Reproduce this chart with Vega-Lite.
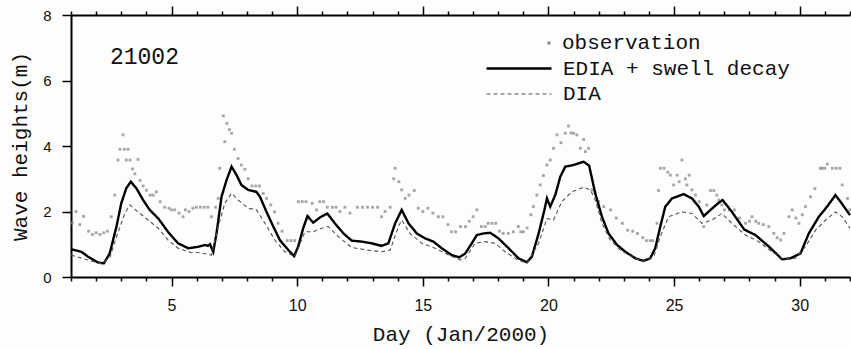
{
"$schema":"https://vega.github.io/schema/vega-lite/v6.json",
"width":779,"height":262,
"autosize":{"type":"none"},
"padding":{"left":71,"top":15,"right":1,"bottom":72},
"background":"#fdfdfd",
"config":{"view":{"stroke":null},"axis":{"domainColor":"#000","domainWidth":2,"tickColor":"#000","tickWidth":1.5,"grid":false,"labelFont":"Liberation Sans","labelColor":"#111","titleFont":"Liberation Mono","titleFontSize":21,"titleFontWeight":"normal","titleColor":"#111"}},
"data":{"values":[
{"s":"o","d":1.05,"h":1.65},{"s":"o","d":1.2,"h":2.0},{"s":"o","d":1.35,"h":1.6},{"s":"o","d":1.5,"h":1.85},{"s":"o","d":1.7,"h":1.4},{"s":"o","d":1.85,"h":1.3},{"s":"o","d":2.0,"h":1.35},{"s":"o","d":2.15,"h":1.3},{"s":"o","d":2.3,"h":1.35},{"s":"o","d":2.45,"h":1.4},
{"s":"o","d":2.6,"h":1.84},{"s":"o","d":2.74,"h":2.5},{"s":"o","d":2.87,"h":3.57},{"s":"o","d":2.95,"h":3.9},{"s":"o","d":3.07,"h":4.34},{"s":"o","d":3.12,"h":3.9},{"s":"o","d":3.2,"h":3.57},{"s":"o","d":3.27,"h":3.9},{"s":"o","d":3.35,"h":3.57},{"s":"o","d":3.45,"h":3.3},
{"s":"o","d":3.54,"h":3.15},{"s":"o","d":3.67,"h":3.59},{"s":"o","d":3.75,"h":2.95},{"s":"o","d":3.87,"h":2.78},{"s":"o","d":4.0,"h":2.65},{"s":"o","d":4.15,"h":2.5},{"s":"o","d":4.27,"h":2.5},{"s":"o","d":4.4,"h":2.6},{"s":"o","d":4.55,"h":2.3},{"s":"o","d":4.73,"h":2.13},
{"s":"o","d":4.9,"h":2.1},{"s":"o","d":5.0,"h":2.05},{"s":"o","d":5.13,"h":2.05},{"s":"o","d":5.3,"h":1.95},{"s":"o","d":5.46,"h":1.84},{"s":"o","d":5.55,"h":2.05},{"s":"o","d":5.7,"h":2.0},{"s":"o","d":5.85,"h":2.1},{"s":"o","d":5.99,"h":2.13},{"s":"o","d":6.15,"h":2.13},
{"s":"o","d":6.3,"h":2.13},{"s":"o","d":6.45,"h":2.13},{"s":"o","d":6.59,"h":1.84},{"s":"o","d":6.75,"h":2.13},{"s":"o","d":6.86,"h":2.4},{"s":"o","d":6.92,"h":3.32},{"s":"o","d":7.06,"h":4.92},{"s":"o","d":7.12,"h":4.13},{"s":"o","d":7.2,"h":4.69},{"s":"o","d":7.3,"h":4.5},
{"s":"o","d":7.39,"h":4.39},{"s":"o","d":7.5,"h":3.9},{"s":"o","d":7.65,"h":3.62},{"s":"o","d":7.78,"h":3.42},{"s":"o","d":7.92,"h":3.29},{"s":"o","d":8.05,"h":3.0},{"s":"o","d":8.2,"h":2.78},{"s":"o","d":8.35,"h":2.78},{"s":"o","d":8.5,"h":2.78},{"s":"o","d":8.65,"h":2.55},
{"s":"o","d":8.78,"h":2.4},{"s":"o","d":8.95,"h":2.2},{"s":"o","d":9.1,"h":1.99},{"s":"o","d":9.24,"h":1.64},{"s":"o","d":9.4,"h":1.4},{"s":"o","d":9.6,"h":1.11},{"s":"o","d":9.75,"h":1.11},{"s":"o","d":9.9,"h":1.11},{"s":"o","d":10.05,"h":2.3},{"s":"o","d":10.2,"h":2.3},
{"s":"o","d":10.35,"h":2.3},{"s":"o","d":10.45,"h":1.84},{"s":"o","d":10.6,"h":2.25},{"s":"o","d":10.77,"h":2.05},{"s":"o","d":10.9,"h":2.3},{"s":"o","d":11.05,"h":2.3},{"s":"o","d":11.2,"h":2.13},{"s":"o","d":11.4,"h":2.13},{"s":"o","d":11.55,"h":2.13},{"s":"o","d":11.7,"h":2.0},
{"s":"o","d":11.9,"h":2.13},{"s":"o","d":12.1,"h":1.95},{"s":"o","d":12.4,"h":2.13},{"s":"o","d":12.6,"h":2.13},{"s":"o","d":12.8,"h":2.13},{"s":"o","d":13.0,"h":2.13},{"s":"o","d":13.2,"h":2.13},{"s":"o","d":13.36,"h":1.84},{"s":"o","d":13.5,"h":2.0},{"s":"o","d":13.7,"h":2.13},
{"s":"o","d":13.84,"h":3.0},{"s":"o","d":13.9,"h":3.32},{"s":"o","d":14.05,"h":2.91},{"s":"o","d":14.16,"h":2.66},{"s":"o","d":14.3,"h":2.4},{"s":"o","d":14.45,"h":2.5},{"s":"o","d":14.66,"h":2.64},{"s":"o","d":14.82,"h":2.1},{"s":"o","d":15.0,"h":2.0},{"s":"o","d":15.2,"h":2.1},
{"s":"o","d":15.4,"h":1.95},{"s":"o","d":15.62,"h":1.84},{"s":"o","d":15.8,"h":1.84},{"s":"o","d":16.0,"h":1.6},{"s":"o","d":16.14,"h":1.38},{"s":"o","d":16.3,"h":1.38},{"s":"o","d":16.5,"h":1.54},{"s":"o","d":16.7,"h":1.54},{"s":"o","d":16.85,"h":1.7},{"s":"o","d":17.0,"h":1.84},
{"s":"o","d":17.15,"h":2.05},{"s":"o","d":17.33,"h":1.54},{"s":"o","d":17.48,"h":1.54},{"s":"o","d":17.6,"h":1.64},{"s":"o","d":17.75,"h":1.64},{"s":"o","d":17.9,"h":1.64},{"s":"o","d":18.05,"h":1.4},{"s":"o","d":18.2,"h":1.33},{"s":"o","d":18.4,"h":1.33},{"s":"o","d":18.6,"h":1.38},
{"s":"o","d":18.8,"h":1.54},{"s":"o","d":18.9,"h":1.38},{"s":"o","d":19.0,"h":1.38},{"s":"o","d":19.15,"h":1.5},{"s":"o","d":19.3,"h":1.9},{"s":"o","d":19.4,"h":2.15},{"s":"o","d":19.54,"h":2.5},{"s":"o","d":19.67,"h":2.81},{"s":"o","d":19.8,"h":3.1},{"s":"o","d":19.94,"h":3.42},
{"s":"o","d":20.07,"h":3.57},{"s":"o","d":20.2,"h":3.93},{"s":"o","d":20.34,"h":4.34},{"s":"o","d":20.5,"h":4.1},{"s":"o","d":20.67,"h":4.39},{"s":"o","d":20.8,"h":4.61},{"s":"o","d":20.9,"h":4.4},{"s":"o","d":21.0,"h":4.39},{"s":"o","d":21.13,"h":4.34},{"s":"o","d":21.27,"h":3.93},
{"s":"o","d":21.4,"h":4.2},{"s":"o","d":21.47,"h":3.83},{"s":"o","d":21.6,"h":3.93},{"s":"o","d":21.73,"h":2.66},{"s":"o","d":21.85,"h":2.6},{"s":"o","d":22.0,"h":2.3},{"s":"o","d":22.2,"h":2.15},{"s":"o","d":22.47,"h":2.05},{"s":"o","d":22.7,"h":1.8},{"s":"o","d":22.94,"h":1.64},
{"s":"o","d":23.15,"h":1.43},{"s":"o","d":23.35,"h":1.4},{"s":"o","d":23.54,"h":1.33},{"s":"o","d":23.75,"h":1.2},{"s":"o","d":23.9,"h":1.11},{"s":"o","d":24.05,"h":1.11},{"s":"o","d":24.15,"h":1.11},{"s":"o","d":24.32,"h":1.64},{"s":"o","d":24.38,"h":2.64},{"s":"o","d":24.45,"h":3.32},
{"s":"o","d":24.6,"h":3.32},{"s":"o","d":24.75,"h":3.2},{"s":"o","d":24.85,"h":3.11},{"s":"o","d":24.98,"h":2.81},{"s":"o","d":25.12,"h":3.11},{"s":"o","d":25.2,"h":2.91},{"s":"o","d":25.31,"h":3.57},{"s":"o","d":25.45,"h":3.0},{"s":"o","d":25.51,"h":2.81},{"s":"o","d":25.6,"h":3.11},
{"s":"o","d":25.71,"h":2.66},{"s":"o","d":25.85,"h":2.5},{"s":"o","d":26.0,"h":2.3},{"s":"o","d":26.18,"h":1.54},{"s":"o","d":26.3,"h":2.2},{"s":"o","d":26.45,"h":2.64},{"s":"o","d":26.58,"h":2.64},{"s":"o","d":26.7,"h":2.5},{"s":"o","d":26.78,"h":2.35},{"s":"o","d":26.9,"h":2.2},
{"s":"o","d":27.0,"h":2.05},{"s":"o","d":27.2,"h":2.05},{"s":"o","d":27.4,"h":2.05},{"s":"o","d":27.6,"h":1.8},{"s":"o","d":27.84,"h":1.64},{"s":"o","d":28.0,"h":1.7},{"s":"o","d":28.1,"h":1.84},{"s":"o","d":28.25,"h":1.7},{"s":"o","d":28.37,"h":1.64},{"s":"o","d":28.55,"h":1.6},
{"s":"o","d":28.77,"h":1.54},{"s":"o","d":28.97,"h":1.33},{"s":"o","d":29.1,"h":1.2},{"s":"o","d":29.24,"h":1.13},{"s":"o","d":29.37,"h":1.33},{"s":"o","d":29.57,"h":1.84},{"s":"o","d":29.7,"h":2.05},{"s":"o","d":29.85,"h":1.8},{"s":"o","d":29.97,"h":1.64},{"s":"o","d":30.1,"h":1.9},
{"s":"o","d":30.23,"h":2.15},{"s":"o","d":30.43,"h":2.45},{"s":"o","d":30.6,"h":2.7},{"s":"o","d":30.82,"h":3.32},{"s":"o","d":30.9,"h":3.32},{"s":"o","d":31.0,"h":3.32},{"s":"o","d":31.1,"h":3.45},{"s":"o","d":31.3,"h":3.32},{"s":"o","d":31.45,"h":3.32},{"s":"o","d":31.6,"h":3.32},
{"s":"o","d":31.69,"h":2.81},{"s":"o","d":31.9,"h":2.4},{"s":"o","d":32.0,"h":2.05},
{"s":"e","d":1.0,"h":0.85},{"s":"e","d":1.41,"h":0.77},{"s":"e","d":1.68,"h":0.62},{"s":"e","d":2.08,"h":0.44},{"s":"e","d":2.31,"h":0.42},{"s":"e","d":2.54,"h":0.72},{"s":"e","d":2.81,"h":1.54},{"s":"e","d":3.0,"h":2.25},{"s":"e","d":3.2,"h":2.71},{"s":"e","d":3.38,"h":2.91},
{"s":"e","d":3.6,"h":2.71},{"s":"e","d":3.87,"h":2.35},{"s":"e","d":4.13,"h":2.05},{"s":"e","d":4.47,"h":1.79},{"s":"e","d":4.86,"h":1.38},{"s":"e","d":5.26,"h":1.03},{"s":"e","d":5.66,"h":0.88},{"s":"e","d":6.06,"h":0.92},{"s":"e","d":6.33,"h":0.98},{"s":"e","d":6.45,"h":0.95},
{"s":"e","d":6.53,"h":1.0},{"s":"e","d":6.66,"h":0.77},{"s":"e","d":6.79,"h":1.33},{"s":"e","d":6.99,"h":2.45},{"s":"e","d":7.19,"h":2.96},{"s":"e","d":7.39,"h":3.37},{"s":"e","d":7.59,"h":3.11},{"s":"e","d":7.78,"h":2.81},{"s":"e","d":8.05,"h":2.66},{"s":"e","d":8.38,"h":2.6},
{"s":"e","d":8.52,"h":2.45},{"s":"e","d":8.78,"h":1.99},{"s":"e","d":9.05,"h":1.54},{"s":"e","d":9.31,"h":1.13},{"s":"e","d":9.65,"h":0.82},{"s":"e","d":9.88,"h":0.64},{"s":"e","d":10.04,"h":0.93},{"s":"e","d":10.24,"h":1.49},{"s":"e","d":10.41,"h":1.86},{"s":"e","d":10.64,"h":1.66},
{"s":"e","d":10.91,"h":1.82},{"s":"e","d":11.2,"h":1.94},{"s":"e","d":11.5,"h":1.64},{"s":"e","d":11.84,"h":1.33},{"s":"e","d":12.17,"h":1.11},{"s":"e","d":12.57,"h":1.08},{"s":"e","d":12.96,"h":1.03},{"s":"e","d":13.36,"h":0.95},{"s":"e","d":13.63,"h":1.03},{"s":"e","d":13.9,"h":1.64},
{"s":"e","d":14.16,"h":2.05},{"s":"e","d":14.43,"h":1.64},{"s":"e","d":14.76,"h":1.33},{"s":"e","d":15.09,"h":1.18},{"s":"e","d":15.42,"h":1.08},{"s":"e","d":15.75,"h":0.88},{"s":"e","d":16.15,"h":0.67},{"s":"e","d":16.45,"h":0.6},{"s":"e","d":16.69,"h":0.72},{"s":"e","d":16.95,"h":1.03},
{"s":"e","d":17.15,"h":1.28},{"s":"e","d":17.41,"h":1.33},{"s":"e","d":17.68,"h":1.35},{"s":"e","d":18.01,"h":1.18},{"s":"e","d":18.41,"h":0.88},{"s":"e","d":18.81,"h":0.57},{"s":"e","d":19.14,"h":0.45},{"s":"e","d":19.34,"h":0.62},{"s":"e","d":19.61,"h":1.33},{"s":"e","d":19.84,"h":2.05},
{"s":"e","d":19.94,"h":2.4},{"s":"e","d":20.07,"h":2.15},{"s":"e","d":20.27,"h":2.5},{"s":"e","d":20.47,"h":3.06},{"s":"e","d":20.67,"h":3.37},{"s":"e","d":21.0,"h":3.42},{"s":"e","d":21.4,"h":3.52},{"s":"e","d":21.62,"h":3.4},{"s":"e","d":21.86,"h":2.56},{"s":"e","d":22.13,"h":1.84},
{"s":"e","d":22.39,"h":1.33},{"s":"e","d":22.73,"h":0.98},{"s":"e","d":23.06,"h":0.77},{"s":"e","d":23.46,"h":0.57},{"s":"e","d":23.79,"h":0.49},{"s":"e","d":24.05,"h":0.57},{"s":"e","d":24.25,"h":0.88},{"s":"e","d":24.45,"h":1.54},{"s":"e","d":24.65,"h":2.15},{"s":"e","d":24.92,"h":2.4},
{"s":"e","d":25.38,"h":2.53},{"s":"e","d":25.71,"h":2.4},{"s":"e","d":25.98,"h":2.15},{"s":"e","d":26.18,"h":1.86},{"s":"e","d":26.45,"h":2.05},{"s":"e","d":26.75,"h":2.25},{"s":"e","d":26.93,"h":2.35},{"s":"e","d":27.3,"h":1.99},{"s":"e","d":27.79,"h":1.45},{"s":"e","d":28.24,"h":1.28},
{"s":"e","d":28.77,"h":0.93},{"s":"e","d":29.3,"h":0.54},{"s":"e","d":29.63,"h":0.57},{"s":"e","d":30.03,"h":0.72},{"s":"e","d":30.36,"h":1.33},{"s":"e","d":30.76,"h":1.84},{"s":"e","d":31.09,"h":2.15},{"s":"e","d":31.42,"h":2.5},{"s":"e","d":31.62,"h":2.3},{"s":"e","d":32.0,"h":1.89},
{"s":"a","d":1.0,"h":0.67},{"s":"a","d":1.68,"h":0.52},{"s":"a","d":2.21,"h":0.4},{"s":"a","d":2.55,"h":0.6},{"s":"a","d":2.81,"h":1.23},{"s":"a","d":3.14,"h":1.94},{"s":"a","d":3.34,"h":2.2},{"s":"a","d":3.67,"h":1.99},{"s":"a","d":4.07,"h":1.74},{"s":"a","d":4.47,"h":1.49},
{"s":"a","d":4.86,"h":1.13},{"s":"a","d":5.26,"h":0.88},{"s":"a","d":5.79,"h":0.74},{"s":"a","d":6.06,"h":0.75},{"s":"a","d":6.59,"h":0.67},{"s":"a","d":6.86,"h":1.54},{"s":"a","d":7.12,"h":2.25},{"s":"a","d":7.39,"h":2.56},{"s":"a","d":7.65,"h":2.35},{"s":"a","d":8.05,"h":2.1},
{"s":"a","d":8.38,"h":2.05},{"s":"a","d":8.72,"h":1.64},{"s":"a","d":9.11,"h":1.13},{"s":"a","d":9.51,"h":0.77},{"s":"a","d":9.91,"h":0.62},{"s":"a","d":10.31,"h":1.38},{"s":"a","d":10.64,"h":1.38},{"s":"a","d":10.97,"h":1.49},{"s":"a","d":11.24,"h":1.54},{"s":"a","d":11.64,"h":1.23},
{"s":"a","d":12.17,"h":0.9},{"s":"a","d":12.83,"h":0.82},{"s":"a","d":13.36,"h":0.77},{"s":"a","d":13.7,"h":0.82},{"s":"a","d":14.03,"h":1.54},{"s":"a","d":14.16,"h":1.74},{"s":"a","d":14.49,"h":1.33},{"s":"a","d":14.96,"h":1.03},{"s":"a","d":15.49,"h":0.88},{"s":"a","d":16.02,"h":0.67},
{"s":"a","d":16.49,"h":0.52},{"s":"a","d":16.69,"h":0.57},{"s":"a","d":17.08,"h":1.03},{"s":"a","d":17.48,"h":1.08},{"s":"a","d":17.88,"h":1.03},{"s":"a","d":18.28,"h":0.77},{"s":"a","d":18.74,"h":0.54},{"s":"a","d":19.14,"h":0.42},{"s":"a","d":19.61,"h":1.03},{"s":"a","d":19.94,"h":1.79},
{"s":"a","d":20.2,"h":1.74},{"s":"a","d":20.53,"h":2.3},{"s":"a","d":20.93,"h":2.6},{"s":"a","d":21.4,"h":2.74},{"s":"a","d":21.67,"h":2.66},{"s":"a","d":21.86,"h":2.35},{"s":"a","d":22.13,"h":1.64},{"s":"a","d":22.46,"h":1.13},{"s":"a","d":22.86,"h":0.82},{"s":"a","d":23.32,"h":0.62},
{"s":"a","d":23.79,"h":0.47},{"s":"a","d":24.19,"h":0.62},{"s":"a","d":24.45,"h":1.23},{"s":"a","d":24.78,"h":1.84},{"s":"a","d":25.31,"h":1.99},{"s":"a","d":25.71,"h":1.94},{"s":"a","d":26.11,"h":1.64},{"s":"a","d":26.51,"h":1.74},{"s":"a","d":26.9,"h":1.94},{"s":"a","d":27.3,"h":1.64},
{"s":"a","d":27.84,"h":1.28},{"s":"a","d":28.37,"h":1.08},{"s":"a","d":28.9,"h":0.77},{"s":"a","d":29.36,"h":0.54},{"s":"a","d":29.83,"h":0.57},{"s":"a","d":30.23,"h":0.93},{"s":"a","d":30.63,"h":1.43},{"s":"a","d":31.03,"h":1.74},{"s":"a","d":31.42,"h":1.99},{"s":"a","d":31.69,"h":1.84},{"s":"a","d":32.0,"h":1.49}
]},
"resolve":{"axis":{"x":"independent"}},
"layer":[
{"transform":[{"filter":"datum.s=='o'"}],
 "mark":{"type":"point","filled":true,"size":8,"opacity":0.75,"color":"#888888"},
 "encoding":{
  "x":{"field":"d","type":"quantitative","scale":{"domain":[1,32],"nice":false,"zero":false},
   "axis":{"orient":"bottom","values":[1,2,3,4,5,6,7,8,9,10,11,12,13,14,15,16,17,18,19,20,21,22,23,24,25,26,27,28,29,30,31,32],
    "labelExpr":"datum.value % 5 === 0 ? datum.label : ''","tickSize":{"condition":{"test":"datum.value % 5 === 0","value":9},"value":4},
    "labelFontSize":16,"labelPadding":11,"title":"Day (Jan/2000)","titlePadding":10}},
  "y":{"field":"h","type":"quantitative","scale":{"domain":[0,8],"nice":false},
   "axis":{"values":[0,1,2,3,4,5,6,7,8],"labelExpr":"datum.value % 2 === 0 ? datum.label : ''",
    "tickSize":{"condition":{"test":"datum.value % 2 === 0","value":9},"value":6},
    "labelFontSize":15,"labelPadding":11,"title":"Wave heights(m)","titlePadding":12}},
  "shape":{"field":"s","type":"nominal","scale":{"domain":["o"],"range":["square"]},
   "legend":{"orient":"none","legendX":467.5,"legendY":17,"title":null,"padding":0,"clipHeight":22,
    "symbolSize":9,"symbolFillColor":"#777777","symbolStrokeWidth":0,"symbolOpacity":1,
    "labelFont":"Liberation Mono","labelFontSize":21,"labelColor":"#111","labelOffset":2.5,"labelLimit":500,
    "labelExpr":"'observation'"}}
 }},
{"transform":[{"filter":"datum.s!='o'"}],
 "mark":{"type":"line"},
 "encoding":{
  "x":{"field":"d","type":"quantitative",
   "axis":{"orient":"top","values":[1,2,3,4,5,6,7,8,9,10,11,12,13,14,15,16,17,18,19,20,21,22,23,24,25,26,27,28,29,30,31,32],
    "labels":false,"tickSize":{"condition":{"test":"datum.value % 5 === 0","value":9},"value":4},"title":null}},
  "y":{"field":"h","type":"quantitative"},
  "color":{"field":"s","type":"nominal","scale":{"domain":["e","a"],"range":["#000000","#555555"]},
   "legend":{"orient":"none","legendX":414,"legendY":42.5,"title":null,"padding":0,"clipHeight":22,"rowPadding":3.5,
    "symbolSize":4225,"symbolType":"stroke","labelFont":"Liberation Mono","labelFontSize":21,"labelColor":"#111","labelOffset":10,"labelLimit":500,
    "labelExpr":"datum.value == 'e' ? 'EDIA + swell decay' : 'DIA'"}},
  "strokeDash":{"field":"s","type":"nominal","scale":{"domain":["e","a"],"range":[[1,0],[4,3]]},
   "legend":{"orient":"none","legendX":414,"legendY":42.5,"title":null,"padding":0,"clipHeight":22,"rowPadding":3.5,
    "symbolSize":4225,"symbolType":"stroke","labelFont":"Liberation Mono","labelFontSize":21,"labelColor":"#111","labelOffset":10,"labelLimit":500,
    "labelExpr":"datum.value == 'e' ? 'EDIA + swell decay' : 'DIA'"}},
  "strokeWidth":{"field":"s","type":"nominal","scale":{"domain":["e","a"],"range":[2.4,1.1]},
   "legend":{"orient":"none","legendX":414,"legendY":42.5,"title":null,"padding":0,"clipHeight":22,"rowPadding":3.5,
    "symbolSize":4225,"symbolType":"stroke","labelFont":"Liberation Mono","labelFontSize":21,"labelColor":"#111","labelOffset":10,"labelLimit":500,
    "labelExpr":"datum.value == 'e' ? 'EDIA + swell decay' : 'DIA'"}}
 }},
{"data":{"values":[{"label":"21002"}]},
 "mark":{"type":"text","align":"left","baseline":"middle","font":"Liberation Mono","fontSize":23,"color":"#111"},
 "encoding":{
  "x":{"datum":2.55,"type":"quantitative","axis":null},
  "y":{"datum":6.72,"type":"quantitative"},
  "text":{"field":"label"}
 }}
]
}
